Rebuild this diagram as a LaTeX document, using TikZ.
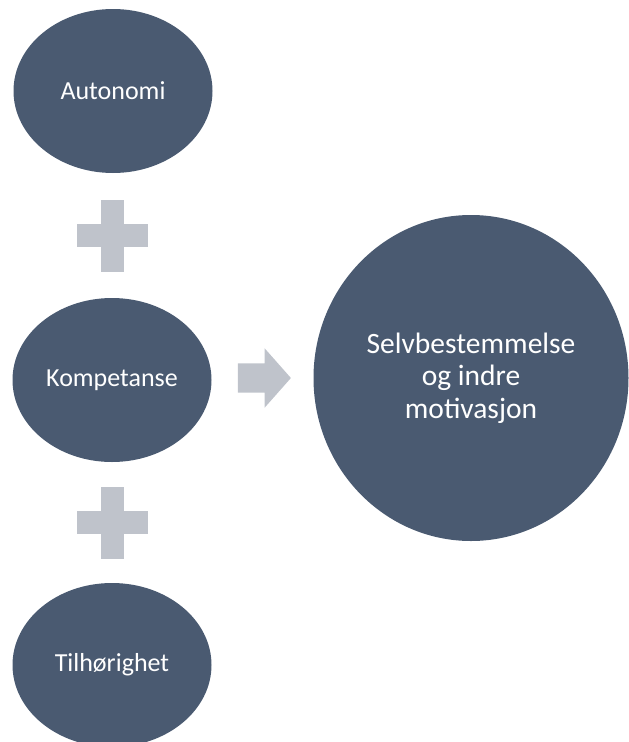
\documentclass[tikz,border=0pt]{standalone}
\usepackage{fontspec}
\setmainfont{Carlito}
\usetikzlibrary{shapes.geometric,shapes.arrows,calc}

\definecolor{circfill}{HTML}{4A5A71}
\definecolor{plusgray}{HTML}{BFC3CB}

\begin{document}
\begin{tikzpicture}[x=1pt,y=-1pt,
                    main node/.style={ellipse,fill=circfill,text=white,inner sep=0pt,
                      minimum width=199pt,minimum height=164pt,
                      font=\fontsize{26}{31}\selectfont},
                    plus bar/.style={fill=plusgray,inner sep=0pt}]

  \useasboundingbox (0,0) rectangle (629,742);

  \node[main node] (auto) at (113,91) {Autonomi};
  \node[main node] (komp) at (112,380) {Kompetanse};
  \node[main node] (tilh) at (112,665) {Tilhørighet};
  \node[main node,minimum width=315pt,minimum height=326pt,align=center,
        font=\fontsize{29.5}{32.5}\selectfont] (motiv)
    at (471,378) {Selvbestemmelse\\og indre\\motivasjon};

  % plus signs between the three needs
  \foreach \a/\b [count=\i] in {auto/komp,komp/tilh} {
    \node[plus bar,minimum width=71pt,minimum height=23pt] (plus\i h) at ($(\a)!0.5!(\b)$) {};
    \node[plus bar,minimum width=23pt,minimum height=72pt] (plus\i v) at (plus\i h) {};
  }

  \node[single arrow,fill=plusgray,inner xsep=0pt,inner ysep=14.5pt,minimum height=53pt,
        single arrow head extend=15pt,single arrow tip angle=97,anchor=tail] (arrow)
    at ($(komp.east)+(26,-2)$) {};

\end{tikzpicture}
\end{document}
